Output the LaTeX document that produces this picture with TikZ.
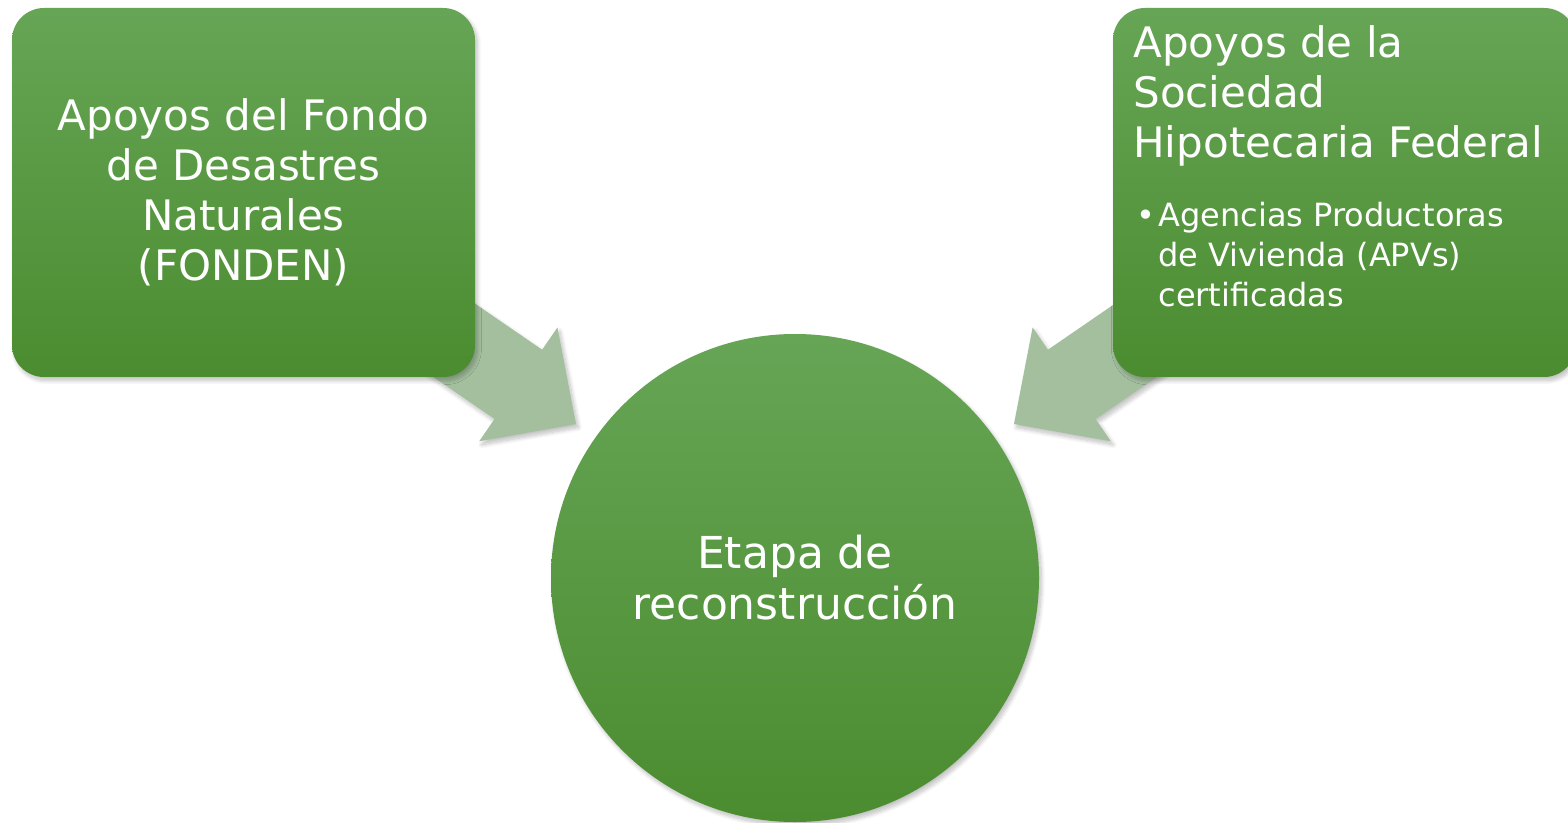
\documentclass[tikz,border=0pt]{standalone}
\usepackage{fontspec}
\setmainfont{DejaVu Sans}
\usetikzlibrary{shapes,shadows.blur}
\definecolor{boxtop}{HTML}{66A555}
\definecolor{boxbot}{HTML}{4B8C30}
\definecolor{arrowgreen}{HTML}{A3BF9E}

\begin{document}
\begin{tikzpicture}[x=0.5pt,y=-0.5pt]
      \tikzstyle{soft}=[blur shadow={shadow xshift=1.2pt,shadow yshift=-1.8pt,shadow blur radius=2pt,shadow blur steps=10,shadow opacity=25}]
      \tikzstyle{greenbox}=[rectangle,rounded corners=16pt,top color=boxtop,bottom color=boxbot,text=white,inner sep=0pt,minimum width=231.5pt,minimum height=184.5pt,soft]
      \tikzstyle{stage}=[circle,top color=boxtop,bottom color=boxbot,text=white,inner sep=0pt,minimum size=244pt,soft]
      \tikzstyle{feed}=[fill=arrowgreen,soft]
      \useasboundingbox (0,0) rectangle (1568,823);
      \coordinate (ltip) at (576,424);
      \coordinate (rtip) at (1014,424);
      \fill[feed,shift={(ltip)},rotate=-34.5] (0,0) -- (-70,-69) -- (-70,-42) -- (-200,-42) -- (-200,42) -- (-70,42) -- (-70,69) -- cycle;
      \fill[feed,shift={(rtip)},rotate=-145.5] (0,0) -- (-70,-69) -- (-70,-42) -- (-200,-42) -- (-200,42) -- (-70,42) -- (-70,69) -- cycle;
      \node[greenbox,align=center,font=\fontsize{21}{25}\selectfont] (fonden) at (243.5,192.5)
        {Apoyos del Fondo\\de Desastres\\Naturales\\(FONDEN)};
      \node[greenbox] (shf) at (1344.5,192.5) {};
      \node[anchor=north west,inner sep=0pt,align=left,text=white,font=\fontsize{21}{25}\selectfont] (shftitle) at (1133,25)
        {Apoyos de la\\Sociedad\\Hipotecaria Federal};
      \node[anchor=north west,inner sep=0pt,text=white,font=\fontsize{16}{20}\selectfont] (apvs) at (1136,198)
        {\makebox[11pt][l]{\textbullet}\begin{tabular}[t]{@{}l@{}}Agencias Productoras\\de Vivienda (APVs)\\certificadas\end{tabular}};
      \node[stage,align=center,font=\fontsize{22}{25.5}\selectfont] (etapa) at (795,578)
        {Etapa de\\reconstrucción};
\end{tikzpicture}
\end{document}
